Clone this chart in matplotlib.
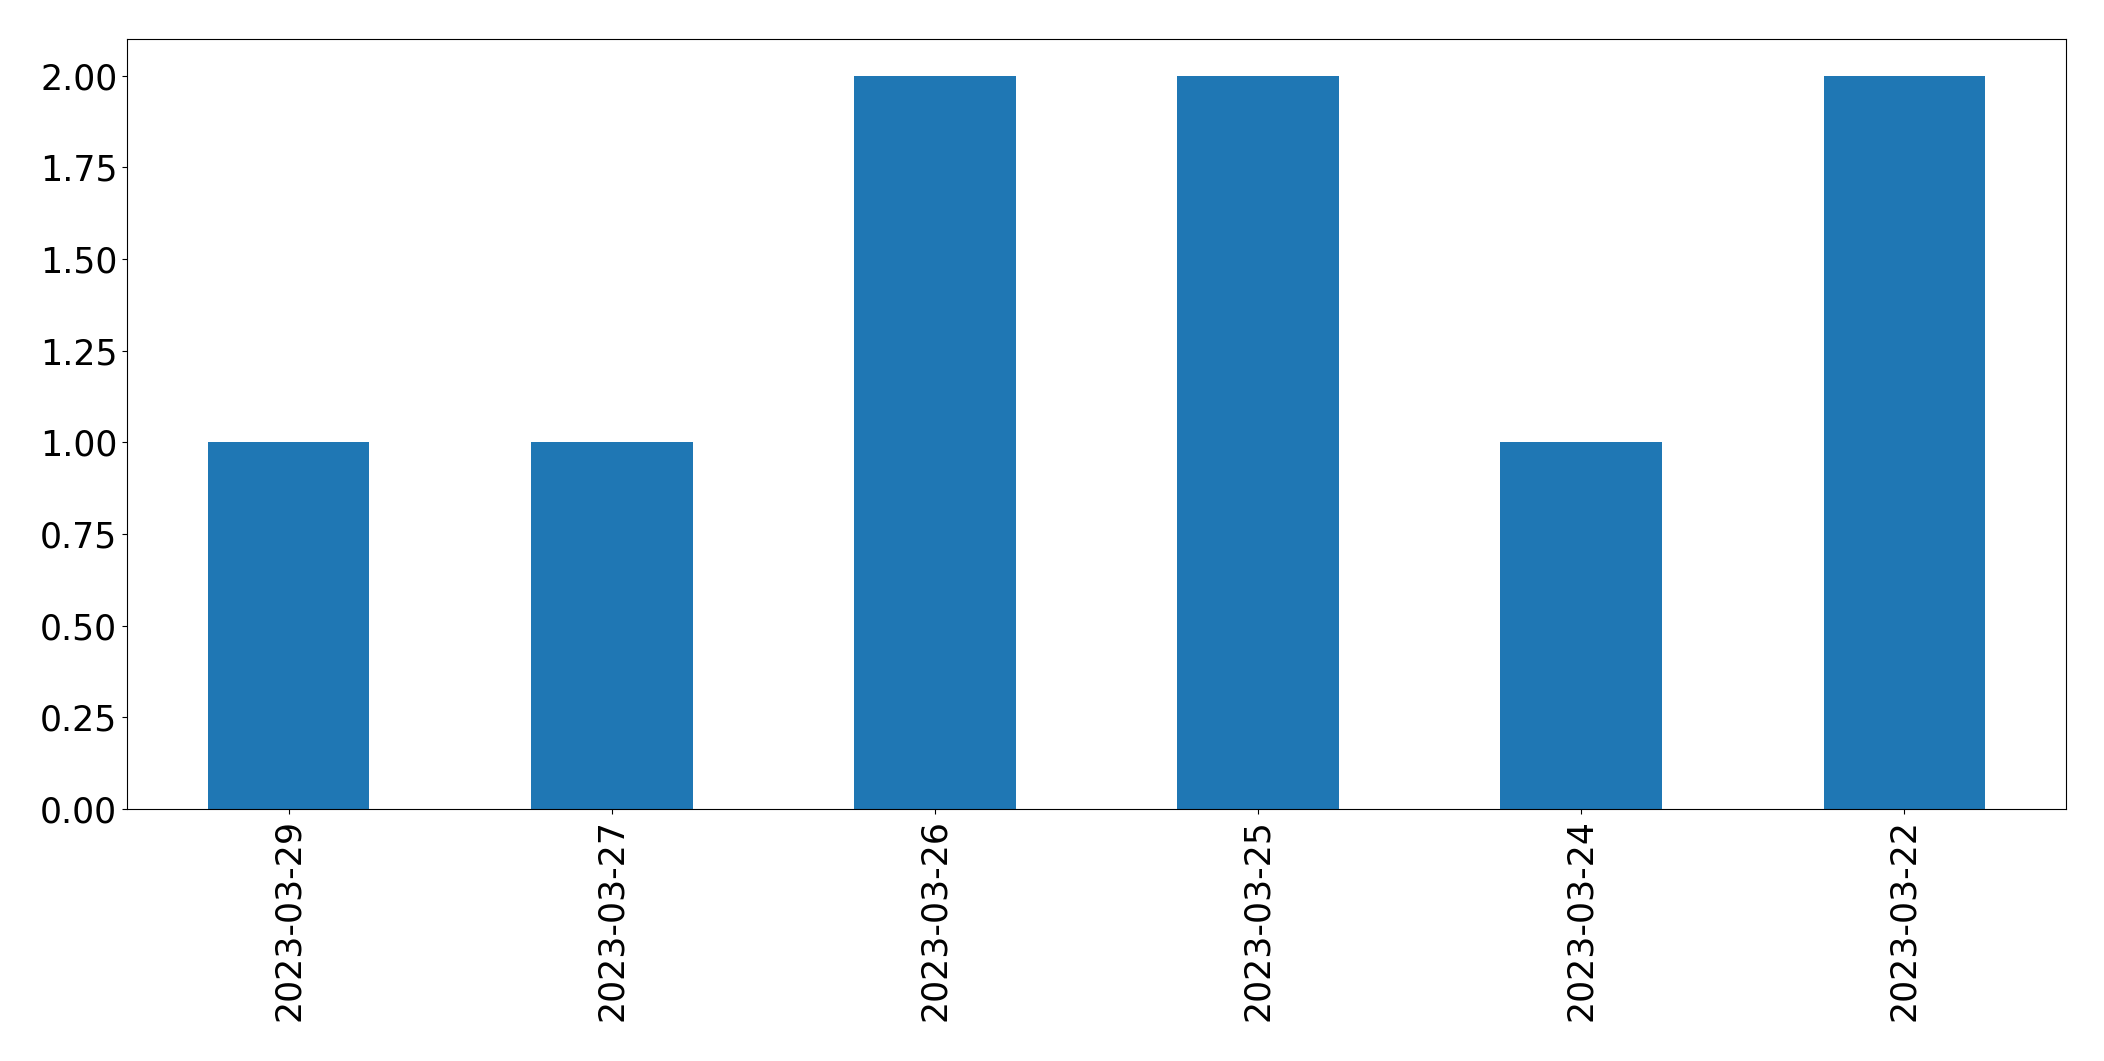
import matplotlib
matplotlib.use('Agg')
import matplotlib.pyplot as plt
import pandas as pd

# Даты и количество записей
dates = ['2023-03-29', '2023-03-27', '2023-03-26', '2023-03-25', '2023-03-24', '2023-03-22']
counts = [1, 1, 2, 2, 1, 2]

series = pd.Series(counts, index=dates)

fig = plt.figure(figsize=(21.04, 10.61), dpi=100)
ax = fig.add_axes([0.0604, 0.2375, 0.9215, 0.7257])

series.plot(kind='bar', ax=ax, fontsize=25, color='#1f77b4')
ax.tick_params(axis='x', labelrotation=90)

fig.savefig('out.png', dpi=100)
